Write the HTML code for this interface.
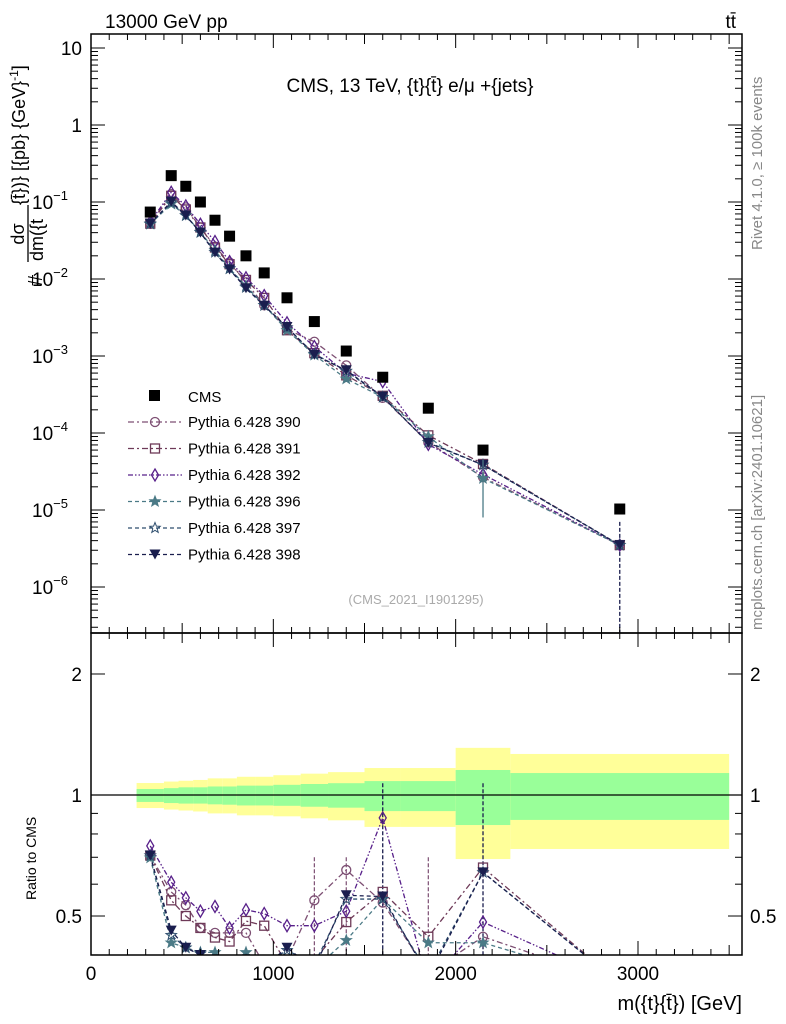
<!DOCTYPE html>
<html><head><meta charset="utf-8"><style>
html,body{margin:0;padding:0;background:#fff}
svg{display:block;font-family:"Liberation Sans",sans-serif}
</style></head><body>
<svg id="c" width="786" height="1024" viewBox="0 0 786 1024">
<defs>
<clipPath id="cm"><rect x="91" y="34" width="651" height="599"/></clipPath>
<clipPath id="cr"><rect x="91" y="633" width="651" height="322"/></clipPath>
</defs>
<g id="bands" clip-path="url(#cr)"></g>
<g id="ratio" clip-path="url(#cr)"></g>
<g id="main" clip-path="url(#cm)"></g>
<g id="axes"></g>
<text x="105" y="28" font-size="19">13000 GeV pp</text>
<text x="736" y="28" font-size="19" text-anchor="end">tt̄</text>
<text x="410" y="92" font-size="19" text-anchor="middle">CMS, 13 TeV, {t}{t̄} e/μ +{jets}</text>
<text x="416" y="604" font-size="13" fill="#aaa" text-anchor="middle">(CMS_2021_I1901295)</text>
<text transform="translate(762,250) rotate(-90)" font-size="15" fill="#888">Rivet 4.1.0, ≥ 100k events</text>
<text transform="translate(762,630) rotate(-90)" font-size="15" fill="#888">mcplots.cern.ch [arXiv:2401.10621]</text>
<g>
<text transform="translate(42,286) rotate(-90)" font-size="20">#</text>
<text transform="translate(24,234) rotate(-90)" font-size="18" text-anchor="middle">dσ</text>
<line x1="28" y1="205" x2="28" y2="262" stroke="#000" stroke-width="1.3"/>
<text transform="translate(43,261) rotate(-90)" font-size="18">dm({t</text>
<text transform="translate(25,205) rotate(-90)" font-size="18">{t̄})} [{pb} {GeV}<tspan font-size="12" dy="-7">-1</tspan><tspan dy="7">]</tspan></text>
</g>
<text transform="translate(36,900) rotate(-90)" font-size="14">Ratio to CMS</text>
<text x="742" y="1010" font-size="20" text-anchor="end">m({t}{t̄}) [GeV]</text>
<g id="legend"></g>
</svg>
<script>
const edges=[250,400,480,560,640,720,800,900,1000,1150,1300,1500,1700,2000,2300,3500];
const mids=[325,440,520,600,680,760,850,950,1075,1225,1400,1600,1850,2150,2900];
const cms=[0.074,0.22,0.16,0.1,0.058,0.036,0.020,0.012,0.0057,0.0028,0.00116,0.00053,0.00021,0.00006,0.0000103];
const yellowHi=[1.071,1.08,1.085,1.09,1.10,1.10,1.11,1.11,1.12,1.13,1.14,1.167,1.167,1.31,1.265];
const yellowLo=[0.928,0.92,0.915,0.91,0.90,0.90,0.89,0.89,0.885,0.875,0.865,0.833,0.833,0.693,0.734];
const greenHi=[1.035,1.04,1.045,1.045,1.05,1.05,1.055,1.055,1.06,1.065,1.07,1.083,1.083,1.154,1.134];
const greenLo=[0.961,0.955,0.952,0.952,0.948,0.946,0.942,0.942,0.94,0.935,0.93,0.912,0.912,0.842,0.867];
const r390=[0.707,0.574,0.532,0.467,0.454,0.454,0.454,0.379,0.389,0.547,0.651,0.54,0.36,0.444,0.34];
const r391=[0.707,0.547,0.5,0.467,0.442,0.432,0.486,0.473,0.379,0.389,0.483,0.574,0.444,0.66,0.34];
const r392=[0.747,0.607,0.555,0.514,0.528,0.467,0.518,0.507,0.473,0.473,0.514,0.877,0.339,0.483,0.34];
const r396=[0.698,0.429,0.417,0.406,0.406,0.379,0.406,0.379,0.379,0.369,0.435,0.551,0.429,0.429,0.34];
const r397=[0.707,0.448,0.417,0.403,0.384,0.379,0.389,0.379,0.411,0.379,0.551,0.551,0.36,0.642,0.34];
const r398=[0.707,0.46,0.417,0.4,0.379,0.369,0.379,0.374,0.417,0.369,0.563,0.559,0.354,0.642,0.34];
const seriesNames=["Pythia 6.428 390","Pythia 6.428 391","Pythia 6.428 392","Pythia 6.428 396","Pythia 6.428 397","Pythia 6.428 398"];
const xTicks=[0,1000,2000,3000];
const ratioTicks=[0.5,1,2];

const NS="http://www.w3.org/2000/svg";
const X=v=>91+v*0.18233;
const Ym=v=>48+(1-Math.log10(v))*77;
const Yr=v=>795-Math.log10(v)*402;
function mk(tag,attrs,parent){const e=document.createElementNS(NS,tag);for(const k in attrs)e.setAttribute(k,attrs[k]);parent.appendChild(e);return e;}

const styles=[
 {c:"#7d4f73",dash:"6,3,2,3",m:"circle"},
 {c:"#6e3a58",dash:"6,3,2,3",m:"square"},
 {c:"#58208a",dash:"5,2,1.5,2,1.5,2",m:"diamond"},
 {c:"#4b7a86",dash:"4,3",m:"starf"},
 {c:"#2e4e6e",dash:"4,3",m:"staro"},
 {c:"#1a1e4e",dash:"4,3",m:"tri"}];
const ratios=[r390,r391,r392,r396,r397,r398];

function marker(g,type,x,y,c){
 let e;
 if(type=="circle")e=mk("circle",{cx:x,cy:y,r:4.5,fill:"none",stroke:c,"stroke-width":1.3},g);
 else if(type=="square")e=mk("rect",{x:x-4.5,y:y-4.5,width:9,height:9,fill:"none",stroke:c,"stroke-width":1.3},g);
 else if(type=="diamond")e=mk("polygon",{points:`${x},${y-6} ${x+3.5},${y} ${x},${y+6} ${x-3.5},${y}`,fill:"none",stroke:c,"stroke-width":1.3},g);
 else if(type=="tri")e=mk("polygon",{points:`${x-5.5},${y-5} ${x+5.5},${y-5} ${x},${y+5}`,fill:c},g);
 else{let p=[];for(let i=0;i<10;i++){const r=i%2?2.3:5.5,a=-Math.PI/2+i*Math.PI/5;p.push((x+r*Math.cos(a)).toFixed(1)+","+(y+r*Math.sin(a)).toFixed(1));}
  e=mk("polygon",{points:p.join(" "),fill:type=="starf"?c:"none",stroke:c,"stroke-width":1},g);}
 return e;
}

const bg=document.getElementById("bands");
edges.slice(0,-1).forEach((e0,i)=>{
 const x0=X(e0),x1=X(edges[i+1]);
 const y=mk("rect",{x:x0,y:Yr(yellowHi[i]),width:x1-x0,height:Yr(yellowLo[i])-Yr(yellowHi[i]),fill:"#ffff99"},bg);
 
 
 const g=mk("rect",{x:x0,y:Yr(greenHi[i]),width:x1-x0,height:Yr(greenLo[i])-Yr(greenHi[i]),fill:"#99ff99"},bg);
 
 
});
mk("line",{x1:91,x2:742,y1:Yr(1),y2:Yr(1),stroke:"#000","stroke-width":1.2},bg);

const mg=document.getElementById("main"),rg=document.getElementById("ratio");
// error bars
[11,13].forEach(i=>{mk("line",{x1:X(mids[i]),x2:X(mids[i]),y1:Yr(1.07),y2:955,stroke:"#1a1e4e","stroke-width":1.3,"stroke-dasharray":"4,2"},rg);});
[9,10,12].forEach(i=>{mk("line",{x1:X(mids[i]),x2:X(mids[i]),y1:Yr(0.7),y2:Yr(0.4),stroke:"#7d4f73","stroke-width":1.2,"stroke-dasharray":"4,2"},rg);});
ratios.forEach((r,s)=>{
 const st=styles[s];
 const vals=r.map((v,i)=>v*cms[i]);
 const gm=mk("g",{},mg);
 
 
 mk("polyline",{points:vals.map((v,i)=>X(mids[i])+","+Ym(v)).join(" "),fill:"none",stroke:st.c,"stroke-width":1.3,"stroke-dasharray":st.dash},gm);
 vals.forEach((v,i)=>{const m=marker(gm,st.m,X(mids[i]),Ym(v),st.c);});
 const gr=mk("g",{},rg);
 
 
 mk("polyline",{points:r.map((v,i)=>X(mids[i])+","+Yr(v)).join(" "),fill:"none",stroke:st.c,"stroke-width":1.3,"stroke-dasharray":st.dash},gr);
 r.forEach((v,i)=>{const m=marker(gr,st.m,X(mids[i]),Yr(v),st.c);});
});
mk("line",{x1:X(2900),x2:X(2900),y1:Ym(7e-6),y2:633,stroke:"#1a1e4e","stroke-width":1.3,"stroke-dasharray":"4,2"},mg);
mk("line",{x1:X(2150),x2:X(2150),y1:Ym(4.5e-5),y2:Ym(8e-6),stroke:"#4b7a86","stroke-width":1.3},mg);
cms.forEach((v,i)=>{const r=mk("rect",{x:X(mids[i])-5.5,y:Ym(v)-5.5,width:11,height:11,fill:"#000"},mg);
 
 });

const ax=document.getElementById("axes");
mk("rect",{x:91,y:34,width:651,height:599,fill:"none",stroke:"#000","stroke-width":1.5},ax);
mk("rect",{x:91,y:633,width:651,height:322,fill:"none",stroke:"#000","stroke-width":1.5},ax);
for(let v=0;v<=3500;v+=100){
 const x=X(v),big=v%1000==0,mid=v%500==0,L=big?14:(mid?10:6);
 [[34,1],[633,-1],[633,1],[955,-1]].forEach(([y,d])=>mk("line",{x1:x,x2:x,y1:y,y2:y+d*L,stroke:"#000","stroke-width":1},ax));
}
xTicks.forEach(v=>{const t=mk("text",{x:X(v),y:980,"font-size":19,"text-anchor":"middle"},ax);t.textContent=v;
 });
for(let e=-7;e<=1;e++){for(let k=1;k<10;k++){const v=k*Math.pow(10,e),y=Ym(v);if(y<34||y>633)continue;
 const L=k==1?14:7;mk("line",{x1:91,x2:91+L,y1:y,y2:y,stroke:"#000"},ax);mk("line",{x1:742,x2:742-L,y1:y,y2:y,stroke:"#000"},ax);}}
const mlab=[[10,"10",""],[1,"1",""],[0.1,"10","−1"],[0.01,"10","−2"],[0.001,"10","−3"],[1e-4,"10","−4"],[1e-5,"10","−5"],[1e-6,"10","−6"]];
mlab.forEach(([v,b,ex])=>{const t=mk("text",{x:ex?68:82,y:Ym(v)+7,"font-size":19,"text-anchor":"end"},ax);t.textContent=b;
 if(ex){const s=mk("tspan",{"font-size":13,dy:-9},t);s.textContent=ex;}
 });
[0.4,0.5,0.6,0.7,0.8,0.9,1,2].forEach(v=>{const y=Yr(v),big=(v==0.5||v==1||v==2);const L=big?14:7;
 mk("line",{x1:91,x2:91+L,y1:y,y2:y,stroke:"#000"},ax);mk("line",{x1:742,x2:742-L,y1:y,y2:y,stroke:"#000"},ax);});
ratioTicks.forEach(v=>{[[82,"end"],[750,"start"]].forEach(([x,a])=>{const t=mk("text",{x:x,y:Yr(v)+7,"font-size":19,"text-anchor":a},ax);t.textContent=v;
 });});

const lg=document.getElementById("legend");
mk("rect",{x:149,y:390,width:11,height:11,fill:"#000"},lg);
const lt=mk("text",{x:188,y:402,"font-size":15},lg);lt.textContent="CMS";
seriesNames.forEach((n,s)=>{const y=422+s*26.5,st=styles[s];
 const g=mk("g",{},lg);
 
 
 mk("line",{x1:128,x2:182,y1:y,y2:y,stroke:st.c,"stroke-width":1.3,"stroke-dasharray":st.dash},g);
 marker(g,st.m,155,y,st.c);
 const t=mk("text",{x:188,y:y+5,"font-size":15},g);t.textContent=n;});
</script>
</body></html>
